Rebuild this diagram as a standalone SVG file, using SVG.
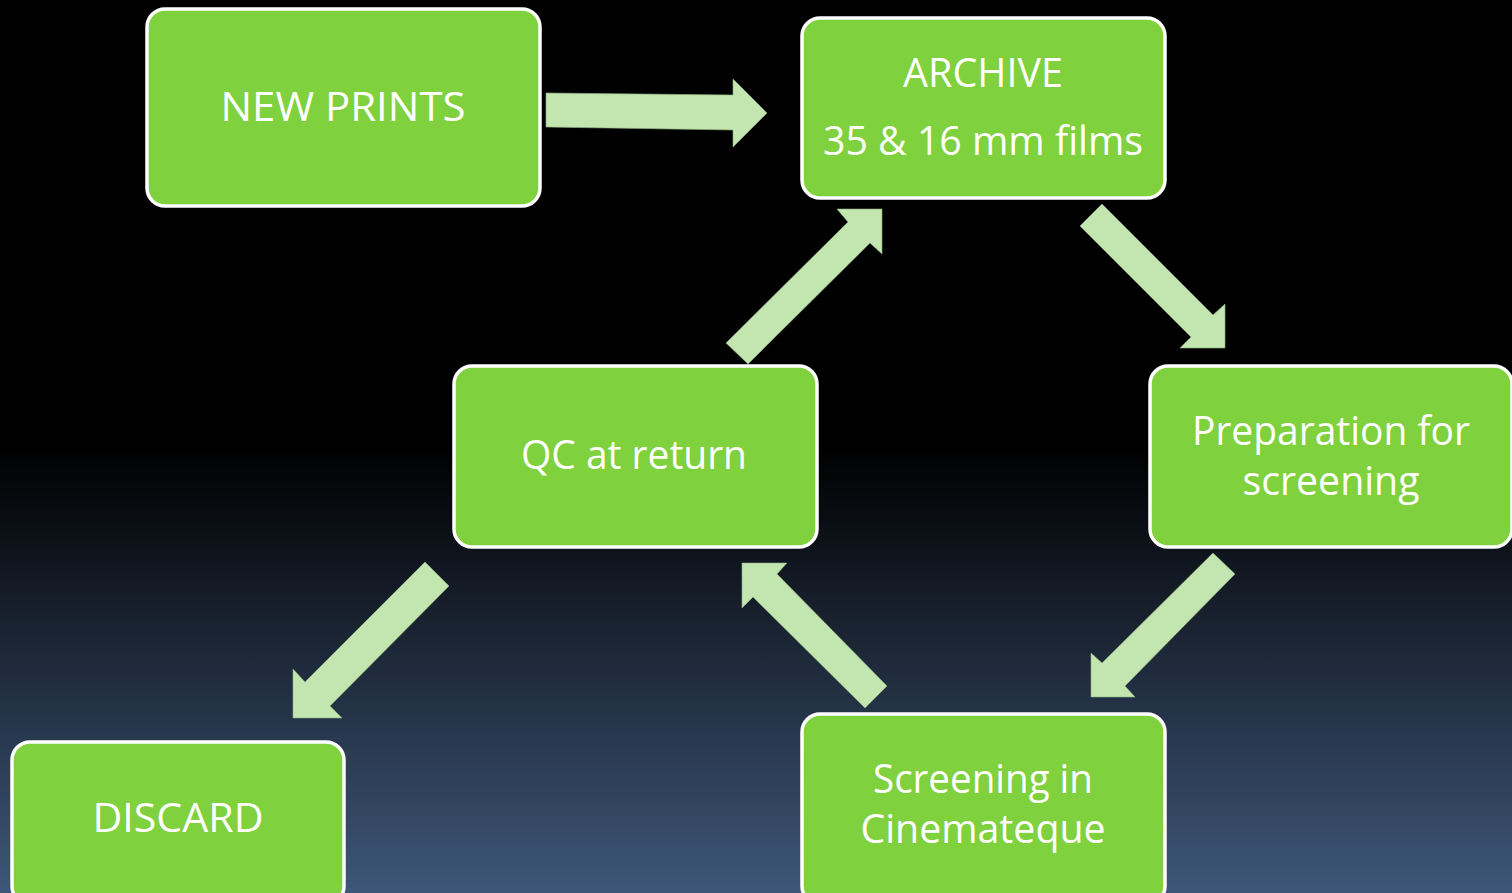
<svg xmlns="http://www.w3.org/2000/svg" width="1512" height="893" viewBox="0 0 1512 893">
<defs>
<linearGradient id="bg" x1="0" y1="0" x2="0" y2="1">
<stop offset="0" stop-color="#000000"/>
<stop offset="0.5" stop-color="#000000"/>
<stop offset="1" stop-color="#3e5678"/>
</linearGradient>
</defs>
<style>
.box{fill:#7fd13d;stroke:#ffffff;stroke-width:3.5}
.arr{fill:#c3e5b0;stroke:#8fb07f;stroke-width:0.6}
.t{font-family:"Open Sans","Noto Sans",sans-serif;font-size:41px;fill:#ffffff;text-anchor:middle}
</style>
<rect x="0" y="0" width="1512" height="893" fill="url(#bg)"/>
<g id="connectors">
<polygon class="arr" points="546,93 733,95 733,79 767,113 733,147 733,130 546,127"/>
<polygon class="arr" points="1102,204 1213,315 1225,304 1225,348 1180,348 1191,337 1080,226"/>
<polygon class="arr" points="882,209 882,254 870,243 748,364 726,343 848,222 837,209"/>
<polygon class="arr" points="1213,553 1235,574 1125,686 1135,697 1091,697 1091,653 1102,663"/>
<polygon class="arr" points="742,563 787,563 777,574 887,686 865,708 753,597 742,608"/>
<polygon class="arr" points="425,562 449,586 330,706 342,718 293,718 293,669 305,682"/>
</g>
<g id="new-prints">
<rect class="box" x="147" y="9" width="393" height="197" rx="18"/>
<text class="t" x="343" y="121" textLength="245" lengthAdjust="spacingAndGlyphs">NEW PRINTS</text>
</g>
<g id="archive">
<rect class="box" x="802" y="18" width="363" height="180" rx="18"/>
<text class="t" x="983" y="87" textLength="160" lengthAdjust="spacingAndGlyphs">ARCHIVE</text>
<text class="t" x="983" y="155" textLength="320" lengthAdjust="spacingAndGlyphs">35 &amp; 16 mm films</text>
</g>
<g id="preparation">
<rect class="box" x="1150" y="366" width="362" height="181" rx="18"/>
<text class="t" x="1331" y="445" textLength="278" lengthAdjust="spacingAndGlyphs">Preparation for</text>
<text class="t" x="1331" y="495" textLength="177" lengthAdjust="spacingAndGlyphs">screening</text>
</g>
<g id="qc">
<rect class="box" x="454" y="366" width="363" height="181" rx="18"/>
<text class="t" x="634" y="469" textLength="226" lengthAdjust="spacingAndGlyphs">QC at return</text>
</g>
<g id="screening">
<rect class="box" x="802" y="714" width="363" height="190" rx="18"/>
<text class="t" x="983" y="793" textLength="220" lengthAdjust="spacingAndGlyphs">Screening in</text>
<text class="t" x="983" y="843" textLength="245" lengthAdjust="spacingAndGlyphs">Cinemateque</text>
</g>
<g id="discard">
<rect class="box" x="12" y="742" width="332" height="162" rx="18"/>
<text class="t" x="178" y="832" textLength="171" lengthAdjust="spacingAndGlyphs">DISCARD</text>
</g>
</svg>
